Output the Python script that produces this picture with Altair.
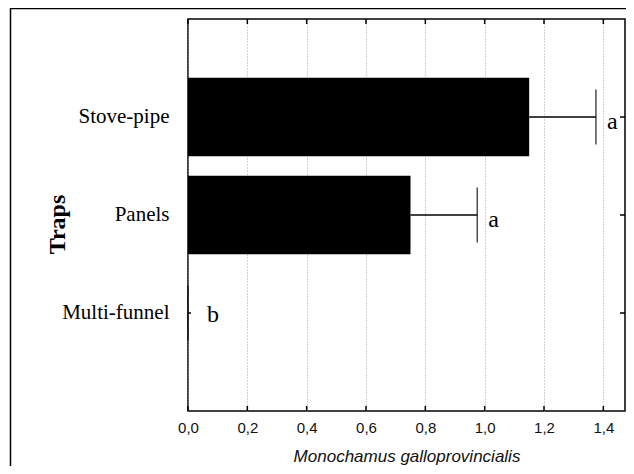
import altair as alt
import pandas as pd

traps = ["Stove-pipe", "Panels", "Multi-funnel"]
means = [1.15, 0.75, 0.0]
errors = [0.225, 0.225, 0.0]
letters = ["a", "a", "b"]
x_ticks = [0.0, 0.2, 0.4, 0.6, 0.8, 1.0, 1.2, 1.4]

df = pd.DataFrame({"trap": traps, "mean": means, "err": errors, "letter": letters})
df["upper"] = df["mean"] + df["err"]
ticks_df = pd.DataFrame({"t": x_ticks})

W, H = 437, 392
xscale = alt.Scale(domain=[0, 1.473], nice=False, zero=True)
yscale = alt.Scale(domain=traps, paddingInner=0.2, paddingOuter=0.6)

x_axis = alt.Axis(
    values=x_ticks,
    labelExpr="replace(format(datum.value, '.1f'), '.', ',')",
    labelFlush=False,
    grid=True, gridDash=[1, 2], gridColor="#a0a0a0", gridWidth=1,
    ticks=False, domain=False,
    labelFont="Liberation Sans", labelFontSize=15, labelColor="#111111", labelPadding=9,
    title="Monochamus galloprovincialis", titleFont="Liberation Sans", titleFontSize=17,
    titleFontStyle="italic", titleFontWeight="normal", titlePadding=13, titleColor="#111111",
)
y_axis = alt.Axis(
    ticks=False, domain=False, grid=False,
    labelFont="Liberation Serif", labelFontSize=21, labelColor="black", labelPadding=19,
    title="Traps", titleFont="Liberation Serif", titleFontSize=24, titleFontWeight="bold",
    titleColor="black", titleX=-131, titleY=205, titleAngle=270, titleAlign="center",
    titleBaseline="middle",
)

Y = alt.Y("trap:N", scale=yscale, sort=traps, axis=y_axis)
Yn = alt.Y("trap:N", scale=yscale, sort=traps)

bars = alt.Chart(df).mark_bar(color="black").encode(
    y=Y, x=alt.X("mean:Q", scale=xscale, axis=x_axis)
)
err_line = alt.Chart(df).mark_rule(color="black", strokeWidth=1.5).encode(
    y=Yn, x=alt.X("mean:Q"), x2="upper:Q"
)
caps = alt.Chart(df).mark_tick(color="black", orient="vertical", size=55, thickness=1.5).encode(
    y=Yn, x=alt.X("upper:Q")
)
letters_a = alt.Chart(df).transform_filter("datum.err > 0").mark_text(
    font="Liberation Serif", fontSize=24, color="black", align="left", baseline="middle", dx=11, dy=5
).encode(y=Yn, x=alt.X("upper:Q"), text="letter:N")
letters_b = alt.Chart(df).transform_filter("datum.err <= 0").mark_text(
    font="Liberation Serif", fontSize=24, color="black", align="left", baseline="middle", dx=19, dy=2
).encode(y=Yn, x=alt.X("upper:Q"), text="letter:N")

top_ticks = alt.Chart(ticks_df).mark_rule(color="black", strokeWidth=1.5).encode(
    x=alt.X("t:Q"), y=alt.value(0), y2=alt.value(5)
)
bottom_ticks = alt.Chart(ticks_df).mark_rule(color="black", strokeWidth=1.5).encode(
    x=alt.X("t:Q"), y=alt.value(H - 5), y2=alt.value(H)
)
right_ticks = alt.Chart(df).mark_rule(color="black", strokeWidth=1.5).encode(
    y=Yn, x=alt.value(W - 5), x2=alt.value(W)
)
left_ticks = alt.Chart(df).mark_rule(color="black", strokeWidth=1.5).encode(
    y=Yn, x=alt.value(0), x2=alt.value(3)
)
frame = alt.Chart(alt.Data(values=[{"f": 1}])).mark_rect(
    fillOpacity=0, stroke="black", strokeWidth=1.5
).encode(x=alt.value(-177.5), x2=alt.value(W + 30), y=alt.value(-10.5), y2=alt.value(H + 90))

chart = alt.layer(
    bars, err_line, caps, letters_a, letters_b, top_ticks, bottom_ticks, right_ticks, left_ticks, frame
).properties(
    width=W, height=H,
    autosize=alt.AutoSizeParams(type="none"),
    padding={"left": 180, "top": 11, "right": 1, "bottom": 55},
    background="white",
).configure_view(stroke="black", strokeWidth=1.5)

chart.save("out.html", embed_options={"renderer": "svg", "actions": False})
